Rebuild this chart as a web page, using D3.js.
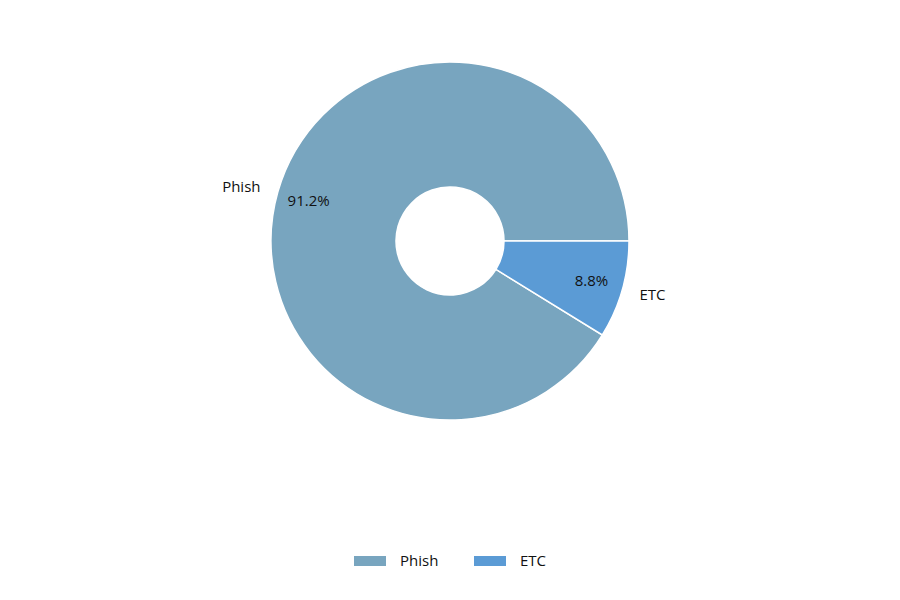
<!DOCTYPE html>
<html>
<head>
<meta charset="utf-8">
<script src="https://cdn.jsdelivr.net/npm/d3@7"></script>
<style>
  body { margin: 0; background: #fff; }
  text { font-family: "Segoe UI", "Open Sans", "Noto Sans", sans-serif; font-size: 15px; fill: #111; }
</style>
</head>
<body>
<div id="chart"></div>
<script>
// chart data
const categories = ['Phish', 'ETC']
const values = [91.2, 8.8]
const colors = ['#78a5bf', '#5b9bd5']

const width = 900
const height = 600
const cx = 450
const cy = 241
const outerR = 179
const innerR = 54

const svg = d3.select('#chart')
    .append('svg')
    .attr('width', width)
    .attr('height', height)

const data = categories.map((c, i) => ({ name: c, value: values[i], color: colors[i] }))
const total = d3.sum(values)

// Phish starts where ETC ends, ETC finishes at 3 o'clock
const start = Math.PI / 2 + 2 * Math.PI * values[1] / total
const pie = d3.pie()
    .sort(null)
    .value(d => d.value)
    .startAngle(start)
    .endAngle(start + 2 * Math.PI)

const arcs = pie(data)

const arc = d3.arc().innerRadius(innerR).outerRadius(outerR)
const pctArc = d3.arc().innerRadius(147).outerRadius(147)

const g = svg.append('g').attr('transform', `translate(${cx}, ${cy})`)

g.selectAll('path.slice')
    .data(arcs)
    .enter()
    .append('path')
    .attr('class', 'slice')
    .attr('d', arc)
    .attr('fill', d => d.data.color)
    .attr('stroke', '#fff')
    .attr('stroke-width', 1.5)

// percentage labels inside
g.selectAll('text.pct')
    .data(arcs)
    .enter()
    .append('text')
    .attr('class', 'pct')
    .attr('transform', d => `translate(${pctArc.centroid(d)})`)
    .attr('text-anchor', 'middle')
    .attr('dy', '0.35em')
    .text(d => (d.data.value / total * 100).toFixed(1) + '%')

// category labels outside
g.selectAll('text.name')
    .data(arcs)
    .enter()
    .append('text')
    .attr('class', 'name')
    .attr('x', d => {
        const a = (d.startAngle + d.endAngle) / 2
        return Math.sin(a) * 197
    })
    .attr('y', d => {
        const a = (d.startAngle + d.endAngle) / 2
        return -Math.cos(a) * 197
    })
    .attr('dy', '0.35em')
    .attr('text-anchor', d => Math.sin((d.startAngle + d.endAngle) / 2) < 0 ? 'end' : 'start')
    .text(d => d.data.name)

// legend
const legendX = d3.scalePoint().domain(categories).range([354, 474])
const legend = svg.selectAll('g.legend')
    .data(data)
    .enter()
    .append('g')
    .attr('class', 'legend')
    .attr('transform', d => `translate(${legendX(d.name)}, 561)`)

legend.append('rect')
    .attr('x', 0)
    .attr('y', -5)
    .attr('width', 32)
    .attr('height', 10)
    .attr('fill', d => d.color)

legend.append('text')
    .attr('x', 46)
    .attr('dy', '0.35em')
    .text(d => d.name)
</script>
</body>
</html>
